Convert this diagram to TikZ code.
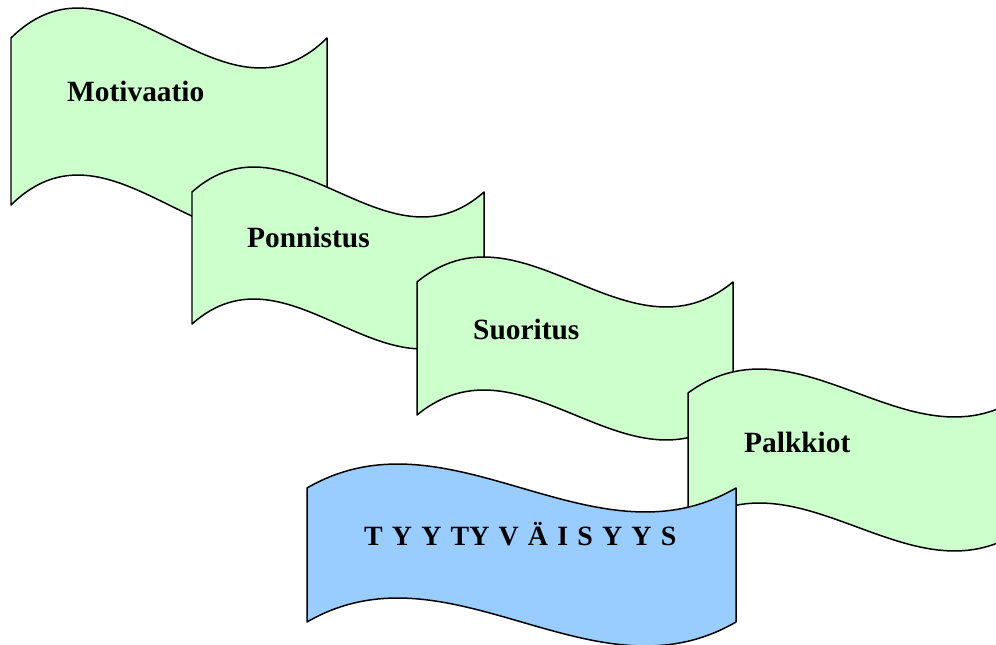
\documentclass[tikz,border=0pt]{standalone}
\usepackage{fontspec}
\setmainfont{Liberation Serif}
\usetikzlibrary{positioning}

\definecolor{bannergreen}{HTML}{CCFFCC}
\definecolor{bannerblue}{HTML}{99CCFF}

% waving banner: left x, top y, width, height, swing, fill
\newcommand{\banner}[6]{%
  \draw[banner, fill=#6] (#1,#2)
    .. controls (#1+#3/3,#2-3.46*#5) and (#1+2*#3/3,#2+3.46*#5) .. (#1+#3,#2)
    -- (#1+#3,#2+#4)
    .. controls (#1+2*#3/3,#2+#4+3.46*#5) and (#1+#3/3,#2+#4-3.46*#5) .. (#1,#2+#4)
    -- cycle;}

\tikzset{
  banner/.style={draw=black, line width=1.5pt, line join=round},
  word/.style={anchor=base west, inner sep=0pt,
    font=\bfseries\fontsize{29.5}{30}\selectfont}
}

\begin{document}
\begin{tikzpicture}[x=1bp, y=-1bp]
  \useasboundingbox (0,0) rectangle (996,645);
  \clip (0,0) rectangle (996,645);
  % stacked banners, back to front
  \banner{11}{38}{316}{167}{30}{bannergreen}
  \banner{192}{192}{292}{132}{25}{bannergreen}
  \banner{417}{282}{316}{133}{25}{bannergreen}
  \banner{688}{393}{338}{134}{24}{bannergreen}
  \banner{307}{488}{429}{134}{24}{bannerblue}
  % captions
  \node[word] (mot) at (67,102) {Motivaatio};
  \node[word] (pon) at (247,248) {Ponnistus};
  \node[word] (suo) at (473,339) {Suoritus};
  \node[word] (pal) at (744,452) {Palkkiot};
  \node[word, font=\bfseries\fontsize{28}{30}\selectfont] (tyy) at (364,545)
    {\spaceskip=9.2bp T Y Y TY V Ä I S Y Y S};
\end{tikzpicture}
\end{document}
